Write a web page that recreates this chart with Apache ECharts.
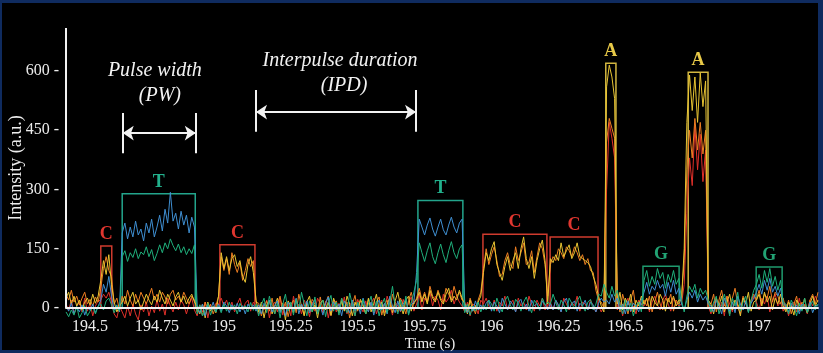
<!DOCTYPE html>
<html><head><meta charset="utf-8">
<script src="https://cdn.jsdelivr.net/npm/echarts@6/dist/echarts.min.js"></script>
<style>
html,body{margin:0;padding:0;background:#0f2b5f;width:823px;height:353px;overflow:hidden}
#frame{position:absolute;left:2px;top:3px;width:816px;height:347px;background:#000}
#c{position:absolute;left:0;top:0;width:823px;height:353px}
</style></head><body><div id="frame"></div><div id="c"></div>
<script>
// sampling of the traces
const T0 = 194.41, DT = 0.01;

const green = [
 -10,-22,-5,-18,4,-25,-12,6,-20,-8,3,-15,5,
 10,-5,18,25,8,
 -12,6,-8,
 130,145,118,140,128,150,125,142,135,155,130,148,120,138,160,140,165,150,175,158,145,162,140,155,135,150,138,160,
 -15,8,-20,-6,12,-18,4,-10,
 5,-12,10,-8,15,-5,8,-15,12,-3,6,-10,14,-6,9,
 -20,8,25,-12,30,5,-15,12,-25,10, 35,-8,15,-18,22,-5,40,10,-20,18, -10,28,-15,5,20,-22,12,32,-8,15, -18,25,3,-12,38,8,-20,15,-5,22, -15,10,30,-10,18,-20,8,25,-12,15, 55,5,-15,20,-8,30,-18,12,40,
 70,165,140,118,145,165,130,112,140,162,135,115,145,168,140,125,150,160,
 -12,10,-18,5,-8,15,-10,
 8,-5,20,10,-8,25,5,-10,18,30, 8,-5,22,12,-8,15,28,5,-12,20, 10,-5,25,8,15,
 10,35,15,-5,20,8,-10,25,12,-3, 18,30,5,-8,15,22,-5,10,35,
 30,60,
 40,25,55,30,
 45,10,-15,20,-8,12,-20,5,15,-10,
 70,95,55,80,60,100,75,90,50,85,65,95,60,75,
 20,-10,
 30,55,40,60,25,50,35,45,20,
 -10,15,30,-15,8,35,10,-20,25,5, 40,-8,15,30,-12,20,45,
 60,85,50,95,65,100,55,80,45,70,15,
 10,-15,20,5,-20,12,-8,25,-12,5,18,-5,10
];

const blue = [
 5,-8,12,-15,3,-10,8,-18,2,-6,10,-12,4,
 20,60,40,80,30,
 -5,8,-10,
 190,215,175,205,180, 220,185,200,170,215, 190,225,180,205,235, 195,250,215,293,220, 240,200,245,210,235, 190,230,205,
 5,-12,10,-20,8,-5,15,-10,
 10,-8,15,5,-12,8,-5,12,-10,6,-15,10,-3,8,-8,
 8,-15,12,-5,20,-10,5,18,-12,10, -20,15,3,-8,25,-15,10,-5,18,-12, 8,22,-10,5,-18,12,28,-8,15,-5, 10,-20,18,5,-12,20,-8,12,-15,25, 3,-10,15,-18,8,20,-5,12,-15,30, 5,-12,18,-8,10,22,-15,8,15,
 90,225,205,185,210,228,200,182,205,225,198,185,210,230,205,190,215,225,
 10,-12,5,-8,18,-5,8,
 -5,12,20,-8,15,5,-12,25,10,-5, 18,8,-10,15,22,-3,10,-8,20,5, 12,-6,18,8,-5,
 12,-5,20,8,-10,15,25,-3,10,18, -8,12,5,20,-5,15,8,-10,12,
 25,15,
 20,10,35,15,
 25,-5,10,-15,18,-8,12,5,-10,20,
 40,65,35,55,45,70,50,60,30,65,40,70,35,50,
 10,-5,
 20,40,25,45,15,35,20,30,10,
 5,-10,20,8,-15,25,5,-8,15,-12, 30,10,-5,18,-10,12,25,
 40,60,35,70,45,75,40,55,30,50,10,
 5,-10,12,-5,8,-15,10,3,-8,15,-12,5,8
];

const yellow = [
 25,40,10,30,5,20,-5,15,25,8,35,12,30,
 70,120,85,135,60,
 15,-10,5,
 15,30,5,25,40, 10,20,-5,15,35, 20,8,30,15,45, 25,10,35,20,5, 28,40,15,30,10, 25,35,15,
 5,-15,10,-25,15,-8,5,-12,
 30,140,100,130,95, 125,135,105,120,80, 65,110,130,90,20,
 -10,15,-25,8,20,-15,5,25,-8,12, -30,18,5,-12,22,-5,10,-20,15,30, -10,8,-25,12,20,-5,15,-18,25,5, -12,18,-8,30,10,-20,15,-5,22,8, -15,25,-10,12,35,-5,15,-20,10,25, -12,18,40,5,-15,20,30,-8,15,
 20,40,15,35,10, 45,25,15,40,20, 10,35,50,15,30, 20,45,25,
 10,-15,20,-8,5,15,30,
 90,140,120,150,168, 110,90,70,105,130, 95,120,140,100,150, 180,125,100,130,75, 120,150,172,120,10,
 125,115,135,120,165, 130,145,160,125,140, 165,130,125,120,115, 105,80,60,30,
 5,-10,
 560,615,585,530,
 10,40,-5,25,8,35,-10,20,5,30,
 10,25,-5,30,15,5,35,20,-8,25,10,30,5,20,
 20,150,
 470,590,500,585,470,595,510,575,20,
 10,-15,25,5,30,-10,15,35,-5,20, 8,-20,25,10,40,-8,15,
 20,35,5,40,15,30,-5,25,10,35,5,
 -10,15,5,-18,20,8,-5,25,-12,10,30,5,20
];

const orange = [
 35,20,45,15,30,8,25,40,10,22,5,28,15,
 50,100,130,95,80,
 10,25,-5,
 30,10,45,20,5, 35,15,40,25,10, 30,50,20,35,15, 40,28,10,35,45, 20,30,15,40,25, 10,30,20,
 -10,8,-20,15,-5,10,-15,5,
 30,130,95,125,85, 140,110,90,115,70, 95,125,105,120,15,
 12,-20,5,18,-8,25,-15,10,30,-5, 15,-22,8,20,-12,35,5,-18,15,-8, 22,10,-15,28,-5,12,30,-20,8,18, -10,25,-5,15,-25,10,32,-8,18,5, -15,22,8,-12,15,28,-18,10,20,-5, 35,12,-10,25,8,-15,18,40,10,
 25,50,20,40,15, 55,30,20,45,25, 15,50,35,20,55, 30,40,20,
 15,-10,25,5,-15,20,40,
 100,150,110,135,155, 120,80,85,120,140, 110,100,155,120,140, 165,110,115,145,90, 130,165,150,110,30,
 110,130,120,150,140, 125,155,145,130,155, 140,120,135,110,125, 95,90,45,20,
 15,0,
 420,480,455,430,
 25,-10,35,10,-15,20,45,-5,15,8,
 20,5,30,-10,15,40,10,-5,25,15,35,-8,20,10,
 25,120,
 350,450,380,480,400,470,390,450,15,
 10,35,-10,20,45,5,30,-15,25,50, 10,-5,30,15,-10,20,35,
 20,45,10,35,25,55,15,40,30,10,25,
 -5,20,-15,10,30,-8,15,5,-12,20,35,10,40
];

const red = [
 10,-5,20,-15,5,15,-10,25,-8,12,-20,5,18,
 20,35,25,40,15,
 -15,-25,5,
 -10,-25,5,-20,10, -15,-30,8,-10,15, -20,5,-12,20,-8, 10,-18,25,5,-10, 15,-5,20,8,-15, 10,25,-5,
 -20,5,-10,15,-25,8,-5,12,
 10,25,5,20,-5, 15,-10,10,25,-5, 12,20,-8,15,5,
 -15,10,-5,20,-25,5,15,-10,25,-18, 8,12,-20,30,-5,10,-15,20,5,-22, 15,-8,25,10,-12,18,-25,5,20,-10, 12,-5,28,-15,8,15,-20,22,5,-10, 18,-8,12,25,-15,5,20,-12,30,8, -18,15,5,-10,22,-5,12,28,-8,
 10,35,-5,25,15, 40,5,30,20,-5, 35,15,25,45,10, 30,15,5,
 -10,15,-20,10,5,-15,20,
 10,25,5,-5,20, -8,15,5,30,-5, 10,20,-10,25,5, 15,-5,30,10,-8, 20,5,25,-5,5,
 15,-5,20,5,-10, 25,10,-5,15,5, 30,-8,15,10,-5, 20,5,-10,5,
 -10,5,
 300,470,430,380,
 -5,15,-20,10,25,-10,5,-15,20,10,
 5,25,-10,15,30,8,-5,20,35,10,-8,25,15,5,
 10,60,
 240,380,310,460,350,440,320,400,5,
 -15,10,25,-5,15,-20,30,10,-10,20, 5,-15,25,10,-5,15,30,
 15,-5,25,10,30,-10,20,35,5,15,-8,
 10,-20,5,15,-10,25,-5,10,-15,20,5,30,15
];

// base-call boxes
const boxLetters = ['C','T','C','T','C','C','A','G','A','G'];
const boxStart = [194.540,194.620,194.985,195.725,195.968,196.219,196.427,196.566,196.735,196.989];
const boxEnd   = [194.581,194.893,195.116,195.893,196.207,196.398,196.465,196.701,196.809,197.086];
const boxTop   = [157,289,160,272,187,180,620,106,597,104];

// axis ticks
const xTicks = [194.5,194.75,195,195.25,195.5,195.75,196,196.25,196.5,196.75,197];
const yTicks = [0,150,300,450,600];

// annotations
const pwArrow = [194.622, 194.895, 443];
const pwBars = [392, 494];
const ipdArrow = [195.120, 195.718, 496];
const ipdBars = [446, 552];
const notes = [
  {text:'Pulse width', t:194.742, v:600},
  {text:'(PW)', t:194.761, v:537},
  {text:'Interpulse duration', t:195.434, v:625},
  {text:'(IPD)', t:195.449, v:562}
];

const X_MIN = 194.41, X_MAX = 197.22, Y_MIN = -40, Y_MAX = 709;

const boxBorder = {C:'#cf3b2e', T:'#23a58c', A:'#d2b640', G:'#1f9a6e'};
const boxLabel  = {C:'#e0362f', T:'#22b08c', A:'#e8c948', G:'#22a374'};

const times = green.map((_, i) => +(T0 + i * DT).toFixed(2));
const pairs = arr => arr.map((v, i) => [times[i], v]);

const serif = 'Liberation Serif';
const white = '#ececec';

const traceSeries = (arr, color) => ({
  type:'line', data: pairs(arr), symbol:'none', silent:true,
  lineStyle:{color, width:1}, z:2
});

const areas = boxLetters.map((L, i) => [
  {xAxis: boxStart[i], yAxis: 0,
   itemStyle:{color:'rgba(0,0,0,0)', borderColor: boxBorder[L], borderWidth:1.5},
   label:{show:true, position:'top', distance:2, formatter:L, color: boxLabel[L],
          fontFamily: serif, fontWeight:'bold', fontSize:18}},
  {xAxis: boxEnd[i], yAxis: boxTop[i]}
]);

const arrowEnd = c => ({coord:c, symbol:'arrow', symbolSize:[11,11]});
const plainEnd = c => ({coord:c, symbol:'none'});

const lines = [
  [plainEnd([X_MIN, 0]), plainEnd([X_MIN, Y_MAX])],
  [arrowEnd([pwArrow[0], pwArrow[2]]), arrowEnd([pwArrow[1], pwArrow[2]])],
  [plainEnd([pwArrow[0], pwBars[0]]), plainEnd([pwArrow[0], pwBars[1]])],
  [plainEnd([pwArrow[1], pwBars[0]]), plainEnd([pwArrow[1], pwBars[1]])],
  [arrowEnd([ipdArrow[0], ipdArrow[2]]), arrowEnd([ipdArrow[1], ipdArrow[2]])],
  [plainEnd([ipdArrow[0], ipdBars[0]]), plainEnd([ipdArrow[0], ipdBars[1]])],
  [plainEnd([ipdArrow[1], ipdBars[0]]), plainEnd([ipdArrow[1], ipdBars[1]])]
];

const chart = echarts.init(document.getElementById('c'), null, {renderer:'canvas'});
chart.setOption({
  animation:false,
  backgroundColor:'transparent',
  grid:{left:66, right:5, top:28, bottom:29.2, containLabel:false, outerBoundsMode:'none'},
  xAxis:{
    type:'value', min:X_MIN, max:X_MAX, z:5,
    axisLine:{onZero:true, lineStyle:{color:'#f4f4f4', width:2}},
    axisTick:{show:false}, splitLine:{show:false},
    axisLabel:{customValues:xTicks, formatter:v => String(v), color:white,
               fontFamily:serif, fontSize:16, margin:-5},
    name:'Time (s)', nameLocation:'middle', nameGap:13, nameMoveOverlap:false,
    nameTextStyle:{color:white, fontFamily:serif, fontSize:15, padding:[0,24,0,0]}
  },
  yAxis:{
    type:'value', min:Y_MIN, max:Y_MAX,
    axisLine:{show:false}, axisTick:{show:false}, splitLine:{show:false},
    axisLabel:{customValues:yTicks, formatter:v => v + ' -', color:white,
               fontFamily:serif, fontSize:16, margin:7},
    name:'Intensity (a.u.)', nameLocation:'middle', nameGap:41, nameRotate:90, nameMoveOverlap:false,
    nameTextStyle:{color:white, fontFamily:serif, fontSize:18, padding:[0,0,0,16]}
  },
  series:[
    traceSeries(red, '#e2302a'),
    traceSeries(orange, '#f07f22'),
    traceSeries(yellow, '#e9c532'),
    traceSeries(blue, '#3f8fd2'),
    Object.assign(traceSeries(green, '#1fb07c'), {
      markArea:{silent:true, data:areas},
      markLine:{silent:true, symbol:['none','none'], label:{show:false},
        lineStyle:{color:'#f2f2f2', width:2, type:'solid'}, data:lines, z:6},
      markPoint:{silent:true, data: notes.map(n => ({
        coord:[n.t, n.v], symbol:'circle', symbolSize:0,
        label:{show:true, position:'inside', formatter:n.text, color:'#f2f2f2',
               fontFamily:serif, fontStyle:'italic', fontSize:20}
      }))}
    })
  ]
});
</script></body></html>
